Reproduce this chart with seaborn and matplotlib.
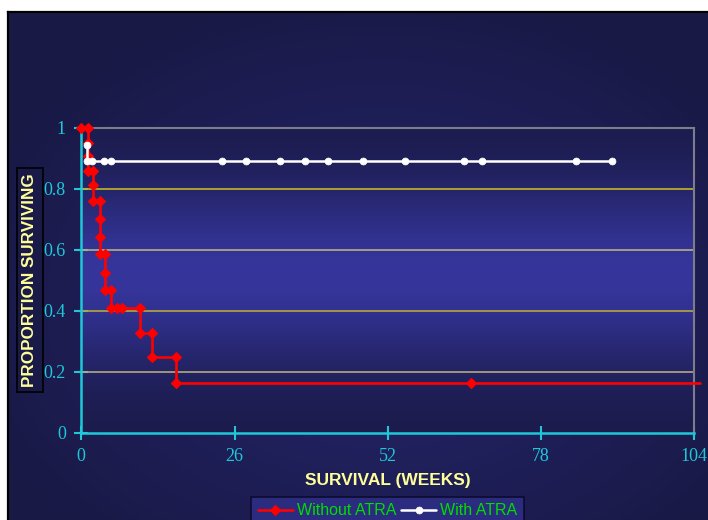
import numpy as np
import pandas as pd
import matplotlib
matplotlib.use("Agg")
import matplotlib.pyplot as plt
import seaborn as sns

# ---------------- data ----------------
red_weeks = [0, 1.15, 1.15, 1.15, 1.15, 2.05, 2.05, 2.05, 3.2, 3.2, 3.2, 3.2,
             4.0, 4.0, 4.0, 5.05, 5.05, 6.0, 7.0, 10.0, 10.0, 12.0, 12.0,
             16.0, 16.0, 66.1, 105]
red_surv = [1, 1, 0.95, 0.905, 0.857, 0.857, 0.81, 0.76, 0.76, 0.70, 0.64, 0.584,
            0.584, 0.524, 0.466, 0.466, 0.407, 0.407, 0.407, 0.407, 0.327, 0.327,
            0.246, 0.246, 0.162, 0.162, 0.162]
white_weeks = [0.95, 0.95, 1.9, 3.9, 5.0, 23.9, 27.9, 33.8, 37.9, 41.9, 47.8,
               55.0, 65.0, 68.0, 84.0, 90.0]
white_surv = [0.944, 0.889, 0.889, 0.889, 0.889, 0.889, 0.889, 0.889, 0.889,
              0.889, 0.889, 0.889, 0.889, 0.889, 0.889, 0.889]
series_names = ["Without ATRA", "With ATRA"]
x_ticks = [0, 26, 52, 78, 104]
x_tick_labels = ["0", "26", "52", "78", "104"]
y_ticks = [0, 0.2, 0.4, 0.6, 0.8, 1]
y_tick_labels = ["0", "0.2", "0.4", "0.6", "0.8", "1"]
x_label = "SURVIVAL (WEEKS)"
y_label = "PROPORTION SURVIVING"

# ---------------- style ----------------
sns.set_theme(style="white")
plt.rcParams["font.family"] = ["Liberation Sans", "DejaVu Sans"]

W_PX, H_PX = 708, 520
fig = plt.figure(figsize=(W_PX / 100, H_PX / 100), dpi=100)
fig.patch.set_facecolor("white")

# slide background (radial-ish gradient) with black top/left border
bg = fig.add_axes([8 / W_PX, 0, 700 / W_PX, 508 / H_PX], zorder=-5)
gh, gw = 254, 350
yy, xx = np.mgrid[0:gh, 0:gw]
d = np.sqrt(((xx / gw - 0.53) / 0.62) ** 2 + ((yy / gh - 0.57) / 0.62) ** 2)
t = np.clip(d, 0, 1)[..., None]
c_center = np.array([0x26, 0x26, 0x70]) / 255
c_outer = np.array([0x19, 0x19, 0x46]) / 255
img = c_center * (1 - t) + c_outer * t
bg.imshow(img, extent=[0, 1, 0, 1], aspect="auto", origin="upper")
bg.set_xlim(0, 1)
bg.set_ylim(0, 1)
bg.set_xticks([])
bg.set_yticks([])
for s in ["right", "bottom"]:
    bg.spines[s].set_visible(False)
for s in ["top", "left"]:
    bg.spines[s].set_color("black")
    bg.spines[s].set_linewidth(1.6)

# main axes
x0, x1 = 81.2, 694.4
y_top, y_bot = 127.5, 432.5
ax = fig.add_axes([x0 / W_PX, 1 - y_bot / H_PX, (x1 - x0) / W_PX, (y_bot - y_top) / H_PX])
ax.set_facecolor("none")

# plot-area vertical gradient
yv = np.linspace(1, 0, 300)[:, None]
f = np.exp(-((yv - 0.52) / 0.30) ** 2)[..., None]
dark = np.array([0x1a, 0x1a, 0x48]) / 255
light = np.array([0x35, 0x35, 0x9c]) / 255
pimg = dark + (light - dark) * f
pimg = np.repeat(pimg, 2, axis=1)
ax.imshow(pimg, extent=[0, 1, 0, 1], transform=ax.transAxes, aspect="auto",
          origin="upper", zorder=0)

# grid lines
grid_colors = {0.2: "#b2aa80", 0.4: "#b6a83c", 0.6: "#b6ae82", 0.8: "#c8b41e"}
for yt in y_ticks:
    if yt in grid_colors:
        ax.axhline(yt, color=grid_colors[yt], lw=1.2, zorder=1)

# series
red_df = pd.DataFrame({"weeks": red_weeks, "surv": red_surv})
white_df = pd.DataFrame({"weeks": white_weeks, "surv": white_surv})

sns.lineplot(data=red_df.iloc[:-1], x="weeks", y="surv", estimator=None, sort=False,
             color="#ff0000", lw=1.9, marker="D", markersize=5.0,
             markeredgecolor="#ff0000", markeredgewidth=0.8,
             label=series_names[0], ax=ax, zorder=3, clip_on=False)
sns.lineplot(data=red_df.iloc[-2:], x="weeks", y="surv", estimator=None, sort=False,
             color="#ff0000", lw=1.9, ax=ax, zorder=3, clip_on=False)
sns.lineplot(data=white_df, x="weeks", y="surv", estimator=None, sort=False,
             color="white", lw=1.8, marker="o", markersize=5.0,
             markeredgecolor="white", markeredgewidth=0.5,
             label=series_names[1], ax=ax, zorder=4, clip_on=False)

ax.set_xlim(0, 104)
ax.set_ylim(0, 1)

# spines
cyan = "#1ec8d8"
for s in ["left", "bottom"]:
    ax.spines[s].set_color(cyan)
    ax.spines[s].set_linewidth(1.8)
for s in ["top", "right"]:
    ax.spines[s].set_color("#7c7c8c")
    ax.spines[s].set_linewidth(1.5)
    ax.spines[s].set_visible(True)

# ticks
ax.set_xticks(x_ticks)
ax.set_xticklabels(x_tick_labels)
ax.set_yticks(y_ticks)
ax.set_yticklabels(y_tick_labels)
ax.tick_params(axis="both", which="major", direction="inout", length=10, width=1.5,
               color=cyan, labelcolor=cyan, labelsize=13,
               bottom=True, left=True, top=False, right=False)
ax.tick_params(axis="x", pad=6)
ax.tick_params(axis="y", pad=6)
for lab in ax.get_xticklabels() + ax.get_yticklabels():
    lab.set_fontfamily(["Liberation Serif", "DejaVu Serif"])

# labels
ax.set_xlabel(x_label, fontsize=12.5, fontweight="bold", color="#ffff99")
ax.xaxis.set_label_coords(0.5, -(481 - y_bot) / (y_bot - y_top))
ax.xaxis.label.set_va("center")
ax.set_ylabel(y_label, fontsize=12.3, fontweight="bold", color="#ffff99",
              bbox=dict(boxstyle="square,pad=0.3", fc="#1a1a48", ec="black", lw=1.2))
ax.yaxis.set_label_coords(-(x0 - 30) / (x1 - x0), 0.5)
ax.yaxis.label.set_va("center")
ax.yaxis.label.set_ha("center")

# legend
handles, labels = ax.get_legend_handles_labels()
if ax.get_legend() is not None:
    ax.get_legend().remove()
leg = fig.legend(handles, labels, loc="upper center",
                 bbox_to_anchor=(387.5 / W_PX, 1 - 497 / H_PX), ncol=2,
                 frameon=True, fancybox=False, facecolor="#2b2b80", edgecolor="#0c0c30",
                 framealpha=1, handlelength=2.2, handletextpad=0.25, columnspacing=0.3,
                 borderpad=0.4, borderaxespad=0, fontsize=11.5, labelcolor="#00dd00")
leg.get_frame().set_linewidth(1.2)

fig.savefig("out.png", dpi=100, facecolor=fig.get_facecolor())
